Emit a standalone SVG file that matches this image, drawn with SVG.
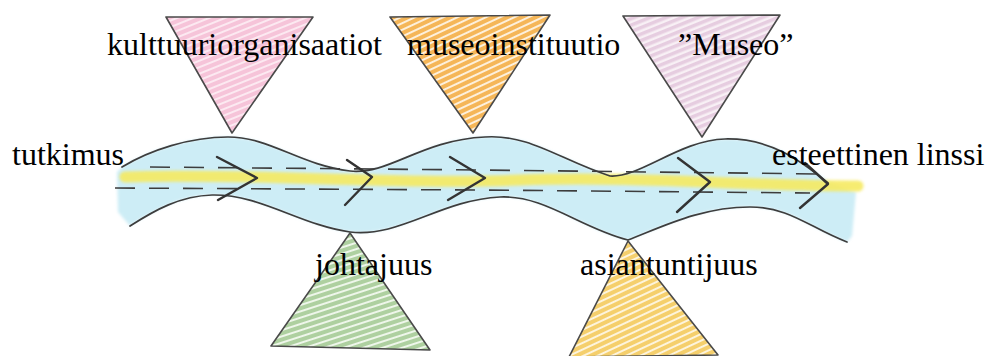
<svg xmlns="http://www.w3.org/2000/svg" width="986" height="356" viewBox="0 0 986 356">
<style>
.tri{stroke:#4a4a4a;stroke-width:1.6;stroke-linejoin:round}
.edge{fill:none;stroke:#3d3d3d;stroke-width:1.7;stroke-linecap:round}
.dash{fill:none;stroke:#3d3d3d;stroke-width:1.6;stroke-dasharray:20 14}
.chev{fill:none;stroke:#333;stroke-width:2.4;stroke-linecap:round;stroke-linejoin:round}
.lbl{font-family:"Liberation Serif","Times New Roman",serif;font-size:32px;fill:#000}
</style>
<defs>
<filter id="soft" filterUnits="userSpaceOnUse" x="0" y="0" width="986" height="356"><feGaussianBlur stdDeviation="1.6"/></filter>
<pattern id="hPink" width="10" height="6" patternUnits="userSpaceOnUse" patternTransform="rotate(-22)"><rect width="10" height="6" fill="#fce9f1"/><rect width="10" height="4" fill="#f6c4d9"/></pattern>
<pattern id="hOrange" width="10" height="6" patternUnits="userSpaceOnUse" patternTransform="rotate(-25)"><rect width="10" height="6" fill="#fdf0dc"/><rect width="10" height="4" fill="#f5b658"/></pattern>
<pattern id="hPurple" width="10" height="6" patternUnits="userSpaceOnUse" patternTransform="rotate(-22)"><rect width="10" height="6" fill="#f8f0f5"/><rect width="10" height="3.5" fill="#e6cde0"/></pattern>
<pattern id="hGreen" width="10" height="6" patternUnits="userSpaceOnUse" patternTransform="rotate(-18)"><rect width="10" height="6" fill="#eef6ea"/><rect width="10" height="4" fill="#aed0a0"/></pattern>
<pattern id="hYellow" width="10" height="6" patternUnits="userSpaceOnUse" patternTransform="rotate(-25)"><rect width="10" height="6" fill="#fdf4dc"/><rect width="10" height="4" fill="#f5cf6c"/></pattern>
</defs>
<rect width="986" height="356" fill="#fff"/>
<g id="band">
<path filter="url(#soft)" d="M117,172 L122,167 C150,150 190,137 228,137 C270,137 300,165 350,171 C390,175 420,140 485,137 C530,134 560,160 610,176 C640,178 680,140 725,139 C770,138 800,160 830,183 L856,192 L852,236 L847,242 C810,228 790,207 750,207 C700,207 660,228 628,240 C580,228 545,195 500,197 C440,200 400,238 350,232 C300,225 260,194 212,195 C180,196 155,210 130,226 L118,212 Z" fill="#cdedf6"/>
<path filter="url(#soft)" d="M125,177 C250,173 400,185 520,180 C640,176 750,186 858,186" fill="none" stroke="#f6ea62" stroke-width="11" stroke-linecap="round" opacity="0.9"/>
<path class="edge" d="M122,167 C150,150 190,137 228,137 C270,137 300,165 350,171 C390,175 420,140 485,137 C530,134 560,160 610,176 C640,178 680,140 725,139 C770,138 800,160 828,183"/>
<path class="edge" d="M130,226 C155,210 180,196 212,195 C260,194 300,225 350,232 C400,238 440,200 500,197 C545,195 580,228 628,240 C660,228 700,207 750,207 C790,207 810,228 847,242"/>
</g>
<g id="connectors">
<path class="dash" d="M150,167 L480,170 L820,174"/>
<path class="dash" d="M115,188 L480,190 L810,193"/>
<polyline class="chev" points="217,157 257,178 218,200"/>
<polyline class="chev" points="347,160 372,177 345,205"/>
<polyline class="chev" points="450,157 485,178 448,200"/>
<polyline class="chev" points="678,158 710,182 677,212"/>
<polyline class="chev" points="805,163 828,184 800,208"/>
</g>
<g id="kulttuuriorganisaatiot">
<polygon class="tri" points="166,17 313,17 232,133" fill="url(#hPink)"/>
<text class="lbl" x="107" y="55">kulttuuriorganisaatiot</text>
</g>
<g id="museoinstituutio">
<polygon class="tri" points="390,17 550,15 473,133" fill="url(#hOrange)"/>
<text class="lbl" x="407" y="55">museoinstituutio</text>
</g>
<g id="museo">
<polygon class="tri" points="623,16 780,15 702,137" fill="url(#hPurple)"/>
<text class="lbl" x="678" y="55">”Museo”</text>
</g>
<g id="johtajuus">
<polygon class="tri" points="350,233 271,346 430,350" fill="url(#hGreen)"/>
<text class="lbl" x="315" y="275">johtajuus</text>
</g>
<g id="asiantuntijuus">
<polygon class="tri" points="628,241 569,357 718,355" fill="url(#hYellow)"/>
<text class="lbl" x="580" y="275">asiantuntijuus</text>
</g>
<text class="lbl" x="12" y="165">tutkimus</text>
<text class="lbl" x="772" y="165">esteettinen linssi</text>
</svg>
